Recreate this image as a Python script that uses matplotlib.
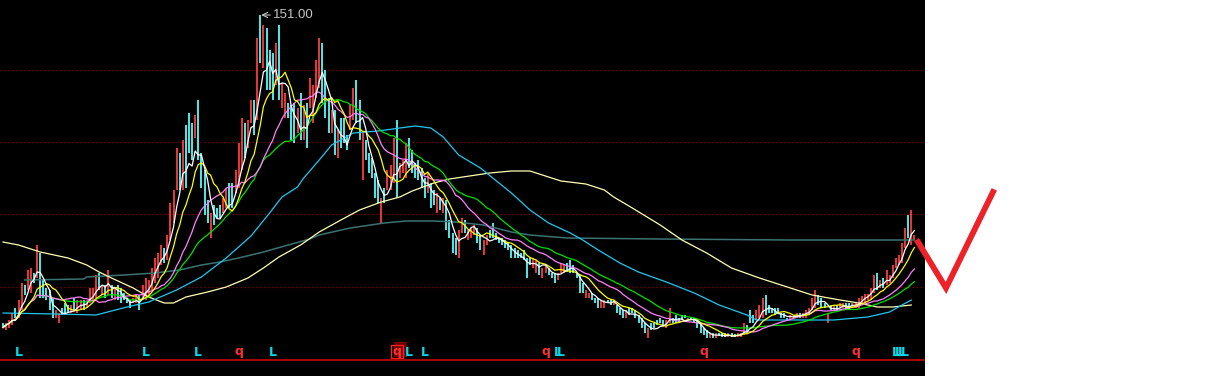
import numpy as np
import pandas as pd
import matplotlib
matplotlib.use('Agg')
import matplotlib.pyplot as plt
from matplotlib.patches import Rectangle

# 日K线 开盘/收盘 (按柱序号, 每行10根)
opens = [
    28, 25, 26, 27, 34, 30, 33, 43, 41, 40,
    48, 46, 56, 45, 42, 41, 38, 30, 28, 34,
    36, 35, 32, 38, 32, 33, 37, 34, 36, 37,
    38, 48, 39, 43, 39, 43, 37, 43, 42, 40,
    38, 37, 36, 36, 39, 37, 37, 38, 41, 44,
    46, 51, 58, 53, 61, 68, 81, 96, 81, 107,
    112, 108, 102, 117, 96, 89, 77, 62, 75, 74,
    75, 72, 74, 84, 84, 80, 82, 89, 108, 98,
    108, 117, 109, 151, 130, 146, 137, 136, 123, 147,
    114, 110, 116, 115, 116, 104, 120, 101, 116, 114,
    108, 118, 122, 140, 129, 118, 104, 113, 94, 110,
    110, 103, 105, 109, 125, 117, 85, 101, 96, 94,
    88, 85, 68, 82, 81, 81, 84, 109, 86, 88,
    86, 102, 97, 92, 93, 90, 86, 80, 84, 81,
    72, 78, 72, 77, 69, 64, 62, 54, 64, 69,
    61, 62, 63, 66, 63, 55, 59, 65, 68, 64,
    62, 62, 61, 60, 59, 58, 57, 56, 57, 54,
    54, 50, 48, 52, 46, 48, 50, 48, 48, 45,
    48, 48, 52, 53, 51, 48, 47, 44, 38, 38,
    40, 38, 38, 34, 34, 37, 37, 35, 35, 34,
    33, 30, 34, 34, 33, 31, 30, 28, 22, 28,
    28, 29, 30, 29, 26, 28, 30, 31, 30, 31,
    31, 29, 30.2, 30, 29, 28, 26, 25, 22, 24,
    22, 24, 23.8, 23.8, 22.2, 23.8, 23.4, 22.2, 22.2, 23,
    27, 33, 31, 29, 30, 30, 39, 35, 34, 34,
    34, 32, 32, 30, 29, 29.8, 29.8, 31.8, 29.8, 30,
    31, 33, 34, 39, 38, 36, 28, 35, 33, 35,
    34, 34, 36, 36, 34, 34, 34, 36, 36, 37,
    37, 40, 48, 42, 46, 43, 44, 46, 50, 51,
    52, 58, 71, 59, 61,
]
closes = [
    26, 28, 29, 32, 30, 37, 44, 39, 49, 50,
    44, 59, 38, 38, 37, 33, 30, 33, 32, 31,
    32, 32, 35, 33, 37, 37, 33, 37, 42, 42,
    47, 41, 43, 38, 49, 38, 42, 37, 36, 37,
    36, 34, 38, 39, 33, 43, 46, 45, 50, 54,
    56, 59, 52, 63, 76, 81, 98, 81, 101, 82,
    96, 93, 111, 93, 82, 71, 68, 72, 67, 70,
    70, 78, 82, 74, 74, 89, 100, 110, 94, 109,
    117, 103, 142, 132, 147, 121, 121, 117, 140, 117,
    124, 120, 110, 101, 100, 114, 101, 115, 98, 126,
    123, 133, 142, 116, 110, 104, 113, 95, 105, 98,
    100, 97, 115, 122, 108, 101, 104, 93, 88, 86,
    78, 76, 78, 76, 89, 91, 102, 78, 92, 93,
    100, 90, 88, 86, 85, 82, 78, 88, 74, 75,
    80, 73, 78, 65, 62, 56, 55, 65, 70, 64,
    65, 66, 67, 60, 57, 61, 63, 62, 62, 61,
    60, 59, 58, 57, 54, 54, 54, 54, 53, 46,
    51, 54, 53, 47, 50, 51, 47, 46, 44, 48,
    52, 51, 49, 48, 48, 46, 40, 40, 41, 40,
    37, 36, 34, 37, 37, 36, 35, 37, 32, 31,
    30, 33, 31, 32, 30, 28, 26, 24, 26, 25,
    26, 27, 28, 27, 29, 34, 28, 28, 28, 29,
    29.8, 30, 29, 28, 26, 24, 23, 22, 24, 22,
    24, 22.6, 22.2, 22.2, 23.8, 22.2, 22.2, 23.8, 23.8, 28,
    24, 28, 28, 33, 35, 38, 31, 32, 32, 31,
    32, 30, 30, 29, 31, 31, 31.8, 29.8, 31.8, 33,
    34, 38, 41, 35, 34, 34, 32, 33, 35, 33,
    36, 36, 33, 33.4, 36, 36.2, 37.8, 38.6, 39.4, 39.4,
    42, 47, 41, 45, 42, 49, 47, 51, 54, 55,
    60, 66, 62, 73, 63,
]

# 慢速均线 (读图所得节点: 柱序号, 价格)
ma60_idx = [0, 17, 30, 40, 47, 56, 64, 72, 80, 86, 90, 95, 97, 102, 106, 113, 121, 128, 133, 138,
            142, 147, 154, 158, 164, 170, 176, 183, 187, 192, 199, 205, 214, 223, 231, 240, 243, 257,
            268, 279, 286, 290, 293]
ma60_val = [31.8, 31.4, 31, 34.2, 36.2, 41, 46.2, 53.8, 62.6, 71.8, 78.2, 82.2, 85.8, 93, 99, 103.8,
            104.6, 105.8, 106.6, 105.8, 102.2, 95, 89.8, 85.8, 79.8, 73, 67.8, 63.8, 61, 57, 51.8, 48.2,
            44.2, 39.8, 35, 31, 29, 29, 29, 30.2, 32.2, 35, 37]
ma120_idx = [0, 5, 12, 21, 27, 31, 35, 42, 47, 52, 55, 59, 66, 72, 79, 84, 89, 96, 102, 109,
             115, 122, 128, 132, 139, 144, 157, 164, 170, 176, 180, 188, 194, 197, 203, 212, 219, 227,
             235, 244, 253, 261, 270, 276, 282, 287, 293]
ma120_val = [60.2, 59, 56.2, 53.8, 51, 48.2, 45.8, 41.8, 38.2, 35.8, 35.8, 38.2, 40.2, 42.2, 45.8,
             49.8, 54.2, 59, 64.2, 69, 73, 76.2, 78.2, 80.6, 83.8, 85.4, 87.8, 88.6, 88.6, 86.2, 84.6,
             83.4, 81, 78.2, 73.8, 67, 61, 55.8, 49.8, 45.8, 42.2, 39, 37, 35.8, 34.2, 34.2, 35]
ma250_idx = [7, 26, 27, 39, 49, 57, 64, 70, 76, 84, 92, 99, 102, 112, 123, 130, 139, 146, 155, 164,
             170, 182, 212, 254, 294]
ma250_val = [45, 45.4, 46.2, 47, 47.8, 49, 51, 52.2, 53.8, 56.2, 59, 61.4, 63, 65.8, 67.8, 68.6,
             68.6, 68.2, 67, 64.2, 63, 61.8, 61.4, 61, 61]

grid_levels = [128.9, 100.1, 71.3, 42.4]

# 底部信号
sig_L = [5, 46, 63, 87, 131, 136, 179, 180, 288, 289, 290, 291]
sig_q = [76, 127, 175, 226, 275]
cursor_bar = 127

RED = '#ff3b3b'
CYAN = '#54fcfc'
BG = 'black'

W, H = 1217, 376
BAR_PX = 3.1
fig = plt.figure(figsize=(W / 100, H / 100), dpi=100, facecolor='white')
chart_w = 925 / W
ax = fig.add_axes([0, 36 / H, chart_w, 340 / H])
ax_sig = fig.add_axes([0, 0, chart_w, 36 / H])
for a in (ax, ax_sig):
    a.set_facecolor(BG)
    a.set_xticks([])
    a.set_yticks([])
    for sp in a.spines.values():
        sp.set_visible(False)
    a.set_xlim(-3 / BAR_PX, (925 - 3) / BAR_PX)
ax.set_ylim(21, 157)
ax_sig.set_ylim(0, 36)

# 网格
for lv in grid_levels:
    ax.axhline(lv, color='#9a0000', lw=0.9, ls=(0, (1, 2.2)), zorder=0)

# K线
o = np.array(opens, dtype=float)
c = np.array(closes, dtype=float)
x = np.arange(len(c))
up = c >= o
ax.vlines(x[up], o[up], c[up], color=RED, lw=1.3, zorder=2)
ax.vlines(x[~up], c[~up], o[~up], color=CYAN, lw=1.3, zorder=2)

# 均线
ax.plot(ma250_idx, ma250_val, color='#3d7272', lw=1.1, zorder=3)
ax.plot(ma120_idx, ma120_val, color='#ffffb4', lw=0.9, zorder=3)
ax.plot(ma60_idx, ma60_val, color='#1ec8f0', lw=0.9, zorder=3)
s = pd.Series(c)
for n, col in [(30, '#00e000'), (20, '#ff80ff'), (10, '#ffff00'), (5, '#ffffff')]:
    ax.plot(x, s.rolling(n, min_periods=1).mean(), color=col, lw=0.9, zorder=4)

# 最高价标注
hi = np.maximum(o, c)
peak = int(np.argmax(hi))
ax.annotate(f'{hi[peak]:.2f}', xy=(peak + 0.3, hi[peak]), xytext=(peak + 4.1, hi[peak]),
            color='#c4c4c4', fontsize=9.5, family='Liberation Sans', va='center', ha='left',
            arrowprops=dict(arrowstyle='->', color='#c4c4c4', lw=0.8, shrinkA=0, shrinkB=0),
            zorder=5)

# 信号条
ax_sig.axhline(16, color='#b00000', lw=1.4)
ax_sig.add_patch(Rectangle((cursor_bar - 0.9, 19), 13 / BAR_PX, 15, color='#6e0000', lw=0))
ax_sig.add_patch(Rectangle((cursor_bar - 1.85, 18), 12 / BAR_PX, 13, fill=False, ec='#ff2020', lw=1))
for i in sig_L:
    ax_sig.text(i, 24, 'L', color='#00dcec', fontsize=9, fontweight='bold',
                ha='center', va='center', family='DejaVu Sans')
for i in sig_q:
    ax_sig.text(i, 24, 'q', color='#ff3030', fontsize=9, fontweight='bold',
                ha='center', va='center', family='DejaVu Sans')

# 右侧手绘对勾
ov = fig.add_axes([0, 0, 1, 1])
ov.set_xlim(0, W)
ov.set_ylim(H, 0)
ov.axis('off')
ov.patch.set_alpha(0)
ov.plot([918, 946, 993], [242, 288, 192], color='#ec2228', lw=4.2, solid_joinstyle='miter')

fig.savefig('out.png', dpi=100, facecolor='white')
